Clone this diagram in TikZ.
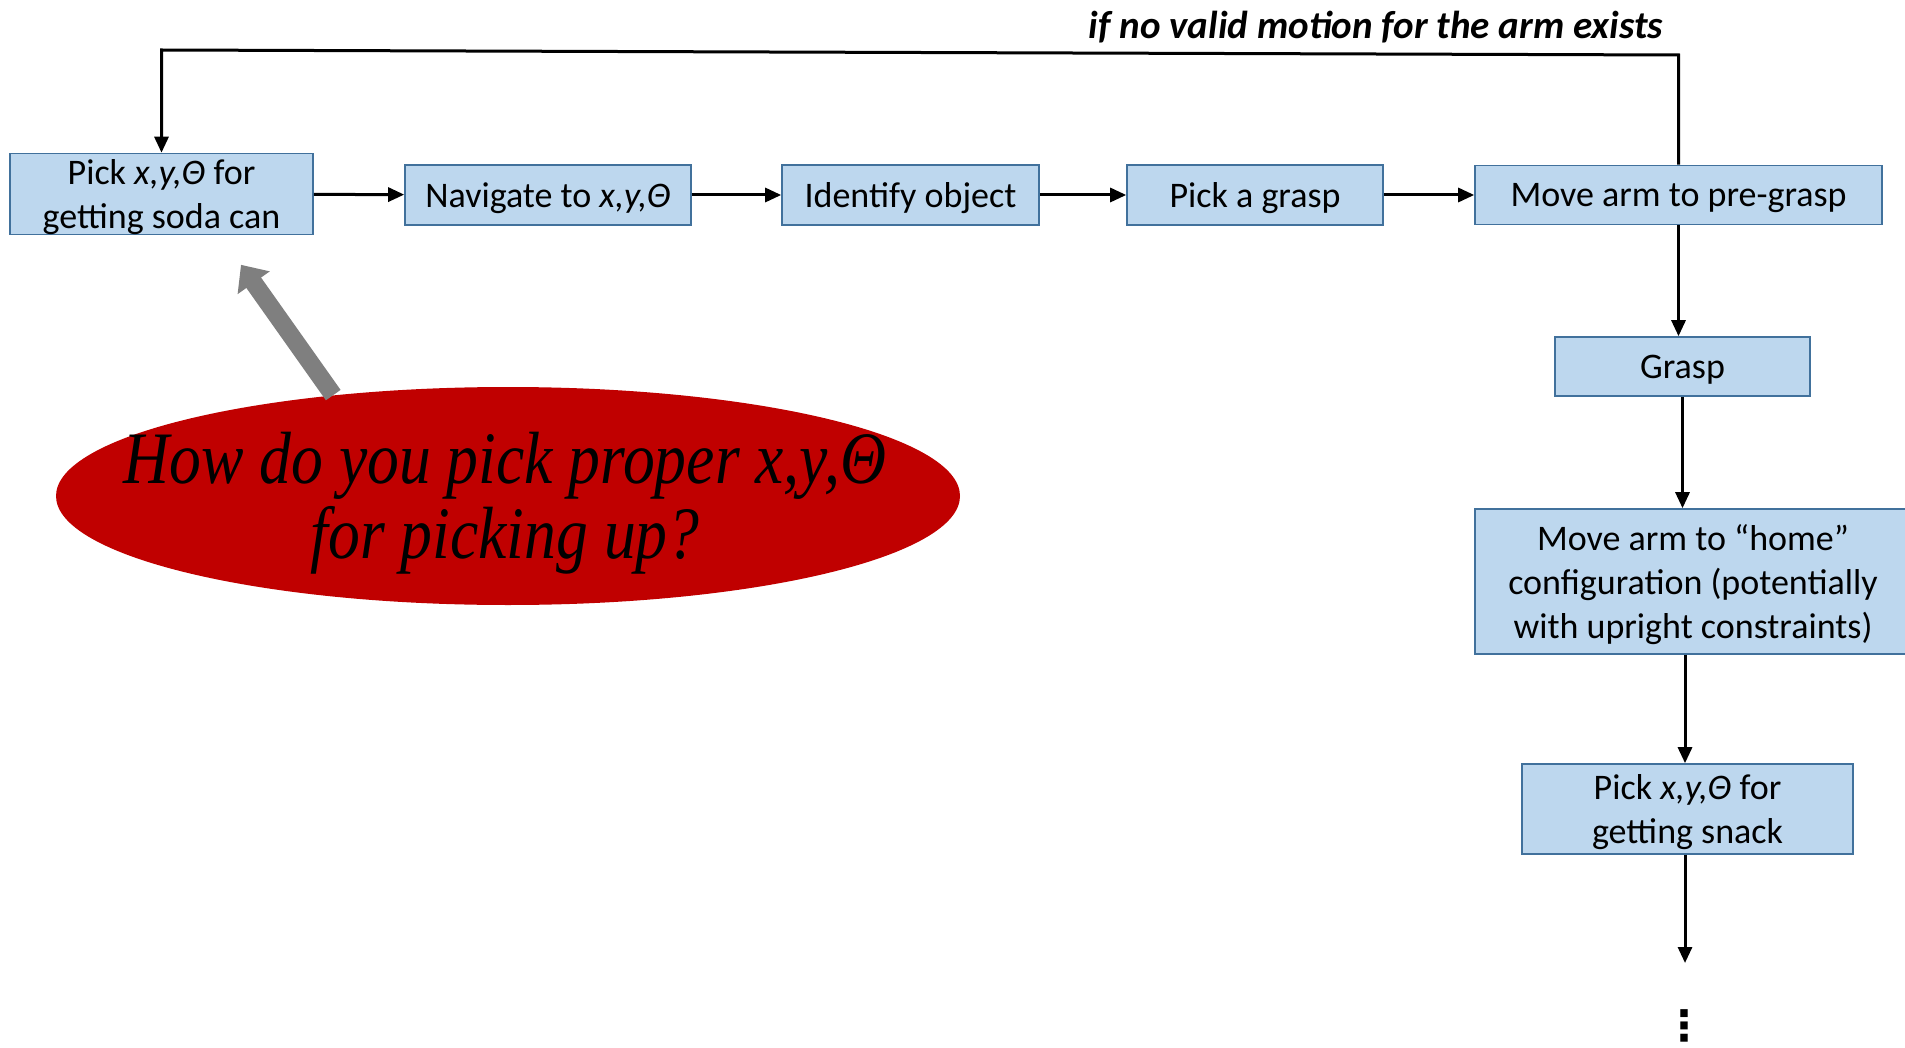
\documentclass[tikz,border=0pt]{standalone}
\usepackage{fontspec}
\setmainfont{Carlito}
\newfontfamily\qfont[FakeStretch=0.86]{Liberation Serif}
\newfontfamily\symfont{DejaVu Sans}
\usetikzlibrary{shapes.geometric,arrows.meta,calc}

\definecolor{boxfill}{HTML}{BDD7EE}
\definecolor{boxline}{HTML}{41719C}
\definecolor{qred}{HTML}{C00000}
\definecolor{hintgray}{HTML}{7F7F7F}

\tikzset{
	stage/.style={draw=boxline, fill=boxfill, line width=0.8pt, align=center, inner sep=0pt, text depth=0pt, font=\fontsize{18}{22}\selectfont},
	flow/.style={line width=1.5pt, -{Triangle[length=8pt,width=7pt]}},
}

\begin{document}
\begin{tikzpicture}[x=0.5pt,y=-0.5pt]
			\useasboundingbox (0,0) rectangle (1905,1048);
			\clip (0,0) rectangle (1905,1048);
			
			% top row
			\node[stage, minimum width=151.5pt, minimum height=40.5pt] (pick1) at (161.5,194) {Pick \textit{x,y,Θ} for\\getting soda can};
			\node[stage, minimum width=143pt, minimum height=30pt] (nav) at (548,195) {Navigate to \textit{x,y,Θ}};
			\node[stage, minimum width=128.5pt, minimum height=30pt] (ident) at (910.5,195) {Identify object};
			\node[stage, minimum width=128pt, minimum height=30pt] (choose) at (1255,195) {Pick a grasp};
			\node[stage, minimum width=203.5pt, minimum height=29.5pt] (pregrasp) at (1678.5,195) {Move arm to pre-grasp};
			
			% right column
			\node[stage, minimum width=127.5pt, minimum height=29.5pt] (grasp) at (1682.5,366.5) {Grasp};
			\node[stage, minimum width=218pt, minimum height=72.5pt] (home) at (1693,581.5) {Move arm to “home”\\configuration (potentially\\with upright constraints)};
			\node[stage, minimum width=165.5pt, minimum height=45pt] (snack) at (1687.5,809) {Pick \textit{x,y,Θ} for\\getting snack};
			\coordinate (more) at (1685,963);
			\node[inner sep=0pt, font=\symfont\bfseries\fontsize{21}{21}\selectfont] (dots) at (1684,1026) {⋮};
			
			\draw[flow] (pick1) -- (nav);
			\draw[flow] (nav) -- (ident);
			\draw[flow] (ident) -- (choose);
			\draw[flow] (choose) -- (pregrasp);
			\draw[flow] (pregrasp.south) -- (pregrasp.south |- grasp.north);
			\draw[flow] (grasp.south) -- (grasp.south |- home.north);
			\draw[flow] (more |- home.south) -- (more |- snack.north);
			\draw[flow] (more |- snack.south) -- (more);
			
			% retry loop
			\coordinate (loopR) at (0,55);
			\coordinate (loopL) at (0,50);
			\draw[flow] (pregrasp.north) -- (pregrasp.north |- loopR) -- (pick1.north |- loopL) -- (pick1.north);
			\node[font=\fontsize{19.5}{22}\selectfont\bfseries\itshape] (why) at (1376,27) {if no valid motion for the arm exists};
			
			% question
			\node[ellipse, fill=qred, minimum width=452pt, minimum height=109pt, inner sep=0pt] (q) at (508,496) {};
			\node[font=\qfont\itshape\fontsize{37}{37.5}\selectfont, align=center] (qtext) at (505,503) {How do you pick proper x,y,Θ\\for picking up?};
			\draw[hintgray, line width=9pt, -{Triangle[length=11pt,width=19pt]}] (q.150) -- ($(pick1.south)+(79.5,29.5)$);
		\end{tikzpicture}
\end{document}
